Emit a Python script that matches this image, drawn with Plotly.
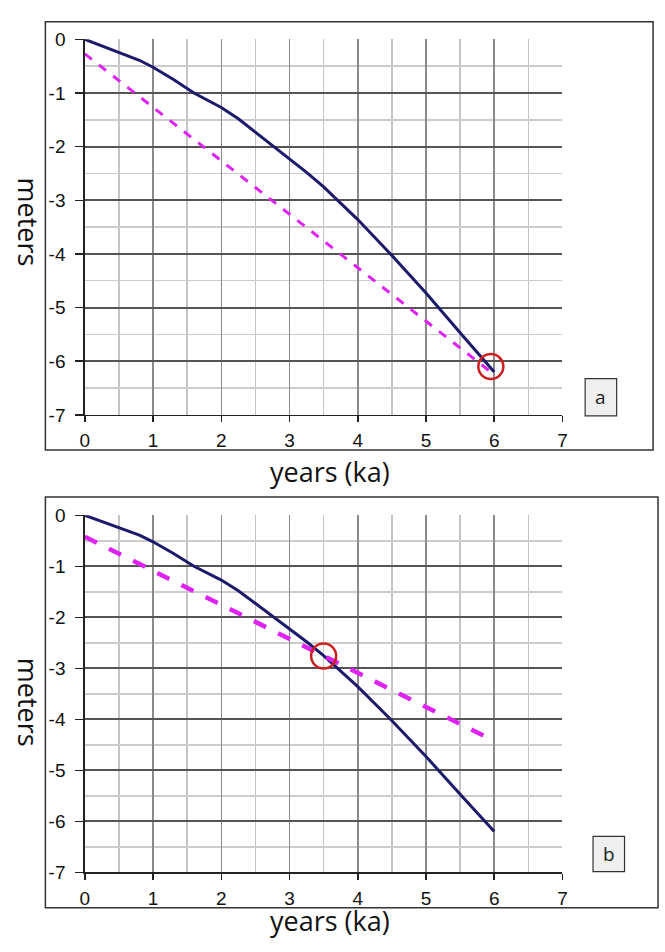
import plotly.graph_objects as go

# ---- data ----
years_model = [0, 0.5, 0.8, 1.0, 1.3, 1.6, 2.0, 2.25, 2.5, 2.78, 3.0, 3.25, 3.5, 3.75, 4.0, 4.48, 5.0, 5.5, 6.0]
meters_model = [0, -0.24, -0.39, -0.52, -0.75, -1.0, -1.27, -1.48, -1.73, -2.0, -2.23, -2.48, -2.75, -3.05, -3.36, -4.0, -4.73, -5.47, -6.2]

years_trend_a = [0, 6.0]
meters_trend_a = [-0.27, -6.25]

years_trend_b = [0, 5.84]
meters_trend_b = [-0.42, -4.32]

circle_a = ([5.95], [-6.1])
circle_b = ([3.5], [-2.76])

x_ticks = [0, 1, 2, 3, 4, 5, 6, 7]
x_ticktext = ["0", "1", "2", "3", "4", "5", "6", "7"]
y_ticks = [0, -1, -2, -3, -4, -5, -6, -7]
y_ticktext = ["0", "-1", "-2", "-3", "-4", "-5", "-6", "-7"]
panel_labels = ["a", "b"]
x_title = "years (ka)"
y_title = "meters"

W, H = 665, 952
NAVY = "#1b1a6b"
MAG = "#dd22f2"
RED = "#cc1f1f"

fig = go.Figure()

def px(x):
    return x / W

def py(y):
    return 1 - y / H

panels = [
    dict(xa="x", ya="y", trend=(years_trend_a, meters_trend_a, 3),
         circ=circle_a, box=(41, 12, 658, 450), lab=(589, 377, 621, 415),
         xt=472, xanchor_y="middle", yt=217),
    dict(xa="x2", ya="y2", trend=(years_trend_b, meters_trend_b, 4.5),
         circ=circle_b, box=(41, 498, 663, 918), lab=(597, 845, 629, 881),
         xt=952, xanchor_y="bottom", yt=708),
]

shapes = []
annotations = []
for i, p in enumerate(panels):
    fig.add_trace(go.Scatter(x=years_model, y=meters_model, mode="lines",
                             line=dict(color=NAVY, width=3),
                             xaxis=p["xa"], yaxis=p["ya"], showlegend=False,
                             hoverinfo="skip"))
    tx, ty, tw = p["trend"]
    fig.add_trace(go.Scatter(x=tx, y=ty, mode="lines",
                             line=dict(color=MAG, width=tw, dash="dash"),
                             xaxis=p["xa"], yaxis=p["ya"], showlegend=False,
                             hoverinfo="skip"))
    cx, cy = p["circ"]
    fig.add_trace(go.Scatter(x=cx, y=cy, mode="markers",
                             marker=dict(symbol="circle-open", size=25,
                                         line=dict(color=RED, width=2.5), color=RED),
                             xaxis=p["xa"], yaxis=p["ya"], showlegend=False,
                             hoverinfo="skip"))
    bx0, by0, bx1, by1 = p["box"]
    shapes.append(dict(type="rect", xref="paper", yref="paper",
                       x0=px(bx0), x1=px(bx1), y0=py(by1), y1=py(by0),
                       line=dict(color="#333333", width=1.5), layer="below"))
    lx0, ly0, lx1, ly1 = p["lab"]
    shapes.append(dict(type="rect", xref="paper", yref="paper",
                       x0=px(lx0), x1=px(lx1), y0=py(ly1), y1=py(ly0),
                       line=dict(color="#333333", width=1.2), fillcolor="#efefef"))
    annotations.append(dict(text=panel_labels[i], xref="paper", yref="paper",
                            x=px((lx0 + lx1) / 2), y=py((ly0 + ly1) / 2),
                            showarrow=False, xanchor="center", yanchor="middle",
                            font=dict(family="Open Sans", size=19, color="#222")))
    annotations.append(dict(text=x_title, xref="paper", yref="paper",
                            x=px(330), y=py(p["xt"]), showarrow=False,
                            xanchor="center", yanchor=p["xanchor_y"],
                            font=dict(family="Open Sans", size=27, color="#111")))
    annotations.append(dict(text=y_title, xref="paper", yref="paper",
                            x=px(24), y=py(p["yt"]), showarrow=False, textangle=90,
                            xanchor="center", yanchor="middle",
                            font=dict(family="Open Sans", size=27, color="#111")))

tick_font = dict(family="Arial, Liberation Sans, sans-serif", size=19, color="#111")

def xaxis_cfg(domain, anchor):
    return dict(domain=domain, anchor=anchor, range=[0, 7],
                tickmode="array", tickvals=x_ticks, ticktext=x_ticktext,
                ticks="outside", ticklen=6, tickcolor="#222", tickwidth=1.5,
                ticklabelstandoff=2,
                showline=True, linecolor="#222", linewidth=1.5,
                showgrid=True, gridcolor="#8a8a8a", gridwidth=1.5,
                minor=dict(dtick=0.5, showgrid=True, gridcolor="#c4c4c4", gridwidth=1.5),
                zeroline=False, fixedrange=True, tickfont=tick_font)

def yaxis_cfg(domain, anchor):
    return dict(domain=domain, anchor=anchor, range=[-7, 0],
                tickmode="array", tickvals=y_ticks, ticktext=y_ticktext,
                ticks="outside", ticklen=8, tickcolor="#222", tickwidth=1.5,
                ticklabelstandoff=6,
                showline=True, linecolor="#222", linewidth=1.5,
                showgrid=True, gridcolor="#555555", gridwidth=2,
                minor=dict(dtick=0.5, showgrid=True, gridcolor="#cccccc", gridwidth=1.5),
                zeroline=False, fixedrange=True, tickfont=tick_font)

d0 = [px(81), px(566)]
fig.update_layout(
    width=W, height=H,
    margin=dict(l=0, r=0, t=0, b=0),
    paper_bgcolor="white", plot_bgcolor="white",
    xaxis=xaxis_cfg(d0, "y"),
    yaxis=yaxis_cfg([py(414), py(30)], "x"),
    xaxis2=xaxis_cfg(d0, "y2"),
    yaxis2=yaxis_cfg([py(881.7), py(516.7)], "x2"),
    shapes=shapes, annotations=annotations,
    showlegend=False, hovermode=False,
)

fig.write_html("out.html",
               config={"displayModeBar": False, "staticPlot": True},
               post_script="document.body.style.margin='0';document.body.style.overflow='hidden';")
